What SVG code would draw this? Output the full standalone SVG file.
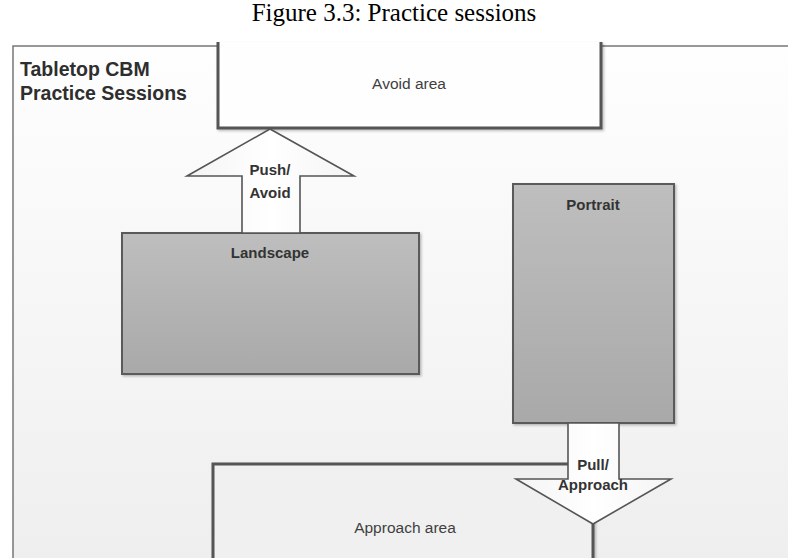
<svg xmlns="http://www.w3.org/2000/svg" width="788" height="558" viewBox="0 0 788 558">
<defs>
<linearGradient id="bg" x1="0" y1="0" x2="0" y2="1"><stop offset="0" stop-color="#fefefe"/><stop offset="1" stop-color="#eeeeee"/></linearGradient>
<linearGradient id="box" x1="0" y1="0" x2="0" y2="1"><stop offset="0" stop-color="#bebebe"/><stop offset="1" stop-color="#a9a9a9"/></linearGradient>
<linearGradient id="arr" x1="0" y1="0" x2="1" y2="0"><stop offset="0" stop-color="#f4f4f4"/><stop offset="0.5" stop-color="#ffffff"/><stop offset="1" stop-color="#f4f4f4"/></linearGradient>
<filter id="sh" x="-5%" y="-5%" width="115%" height="115%"><feDropShadow dx="1.5" dy="1.5" stdDeviation="1.2" flood-color="#000" flood-opacity="0.25"/></filter>
</defs>
<style>
.lbl{font-family:"Liberation Sans",Arial,sans-serif;font-weight:bold;font-size:15px;fill:#333;text-anchor:middle}
.area{font-family:"Liberation Sans",Arial,sans-serif;font-size:15.5px;fill:#3f3f3f;text-anchor:middle}
.gbox{fill:url(#box);stroke:#5a5a5a;stroke-width:2}
.arrow{fill:url(#arr);stroke:#555;stroke-width:1.6;stroke-linejoin:miter}
.zone{stroke:#555;stroke-width:3;filter:url(#sh)}
</style>
<rect width="788" height="558" fill="#fff"/>
<text x="394" y="21" font-family="'Liberation Serif','Times New Roman',serif" font-size="25" fill="#000" text-anchor="middle">Figure 3.3: Practice sessions</text>
<g id="frame">
<rect x="13" y="46" width="790" height="530" fill="url(#bg)" stroke="#777" stroke-width="1.5"/>
<text x="20" y="76" font-family="'Liberation Sans',Arial,sans-serif" font-weight="bold" font-size="19.5" fill="#2e2e2e">Tabletop CBM</text>
<text x="20" y="100" font-family="'Liberation Sans',Arial,sans-serif" font-weight="bold" font-size="19.5" fill="#2e2e2e">Practice Sessions</text>
</g>
<g id="avoid-area">
<path class="zone" d="M218 42 V128 H601 V42" fill="#fefefe"/>
<text class="area" x="409" y="89">Avoid area</text>
</g>
<g id="approach-area">
<rect class="zone" x="213" y="464" width="380" height="120" fill="#f0f0f0"/>
<text class="area" x="405" y="533">Approach area</text>
</g>
<g id="landscape">
<rect class="gbox" x="122" y="233" width="297" height="141" filter="url(#sh)"/>
<text class="lbl" x="270" y="258">Landscape</text>
</g>
<g id="portrait">
<rect class="gbox" x="513" y="184" width="161" height="239" filter="url(#sh)"/>
<text class="lbl" x="593" y="210">Portrait</text>
</g>
<g id="connectors">
<g id="push-avoid">
<polygon class="arrow" points="270,129 354,176 300,176 300,233 242,233 242,176 187,176"/>
<text class="lbl" x="270" y="175">Push/</text>
<text class="lbl" x="270" y="198">Avoid</text>
</g>
<g id="pull-approach">
<polygon class="arrow" points="568,423 619,423 619,479 671,479 593,524 516,479 568,479"/>
<text class="lbl" x="593" y="470">Pull/</text>
<text class="lbl" x="593" y="490">Approach</text>
</g>
</g>
</svg>
